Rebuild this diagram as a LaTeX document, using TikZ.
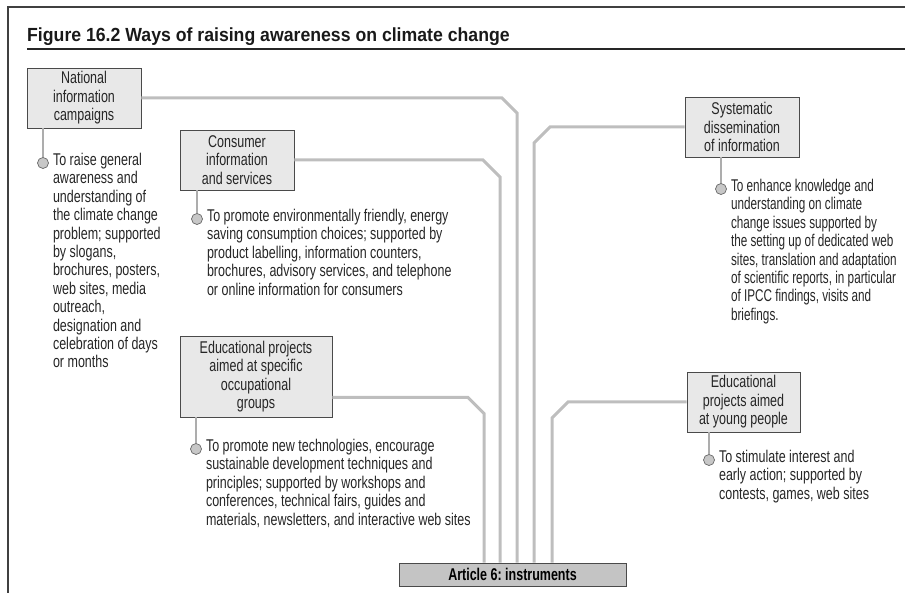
\documentclass[tikz,border=0pt]{standalone}
\usepackage{fontspec}
\setmainfont{Liberation Sans}[FakeStretch=0.735]
\newfontfamily\titlefamily{Liberation Sans}[FakeStretch=0.93]
\newfontfamily\tightfamily{Liberation Sans}[FakeStretch=0.69]
\usepackage{xcolor}
\usepackage{tikz}
\definecolor{feedgray}{HTML}{BEBEBE}
\definecolor{boxfill}{HTML}{E8E8E8}
\definecolor{boxline}{HTML}{4A4A4A}
\definecolor{artfill}{HTML}{C4C4C4}
\newcommand{\waytext}{\fontsize{17}{18.4}\selectfont}
\newcommand{\titletext}{\fontsize{19}{22}\selectfont\titlefamily\bfseries}
\frenchspacing
\tikzset{
    way/.style={draw=boxline, fill=boxfill, line width=0.9pt, align=center,%
    inner xsep=3pt, inner ysep=0pt, minimum width=114pt, minimum height=60pt,%
    font=\waytext, text=black!85},
    art/.style={draw=boxline, fill=artfill, line width=0.9pt, minimum width=227pt,%
    minimum height=23pt, inner sep=0pt, font=\waytext\bfseries},
    desc/.style={align=left, inner sep=0pt, anchor=north west, font=\waytext, text=black!85},
    dot/.style={circle, draw=black!60, fill=black!22, line width=0.7pt, inner sep=0pt, minimum size=11pt},
    stem/.style={draw=black!32, line width=1.5pt},
    feed/.style={draw=feedgray, line width=3pt},
    frame/.style={draw=black!75, line width=1.3pt},
}
\begin{document}
\begin{tikzpicture}[x=1pt, y=-1pt]
    \useasboundingbox (0,0) rectangle (905,593);
    % frame and title
    \draw[frame] (905,7) -- (8,7) -- (8,593);
    \node[anchor=base west, inner sep=0pt, font=\titletext, text=black!90] (title) at (27,42)
        {Figure 16.2 Ways of raising awareness on climate change};
    \draw[black!85, line width=1.2pt] (27,49) -- (905,49);

    % the five ways
    \node[way] (nat) at (84,98) {National\\information\\campaigns};
    \node[way] (con) at (237,160) {Consumer\\information\\and services};
    \node[way] (sys) at (742,127) {Systematic\\dissemination\\of information};
    \node[way, minimum width=152pt, minimum height=81pt] (edu) at (256,376.5)
        {Educational projects\\aimed at specific\\occupational\\groups};
    \node[way, minimum width=113pt] (yng) at (743.5,402) {Educational\\projects aimed\\at young people};
    \node[art] (art) at (512.5,574.5) {Article 6: instruments};

    % feeders into article 6
    \draw[feed] (nat.east) -- (nat.east -| 502,0) -- ++(15,15) -- (517,0 |- art.north);
    \draw[feed] (con.east) -- (con.east -| 483,0) -- ++(17,17) -- (500,0 |- art.north);
    \draw[feed] (sys.west) -- (sys.west -| 550,0) -- ++(-16,16) -- (534,0 |- art.north);
    \draw[feed] ([yshift=-21pt]edu.east) -- ([yshift=-21pt]edu.east -| 468,0) -- ++(16,16) -- (484,0 |- art.north);
    \draw[feed] (yng.west) -- (yng.west -| 568,0) -- ++(-16,16) -- (552,0 |- art.north);

    % bullets
    \node[dot] (natdot) at (43,163) {};
    \node[dot] (condot) at (197,219) {};
    \node[dot] (sysdot) at (721,189) {};
    \node[dot] (edudot) at (196,449) {};
    \node[dot] (yngdot) at (709,460) {};
    \draw[stem] (nat.south -| natdot) -- (natdot);
    \draw[stem] (con.south -| condot) -- (condot);
    \draw[stem] (sys.south -| sysdot) -- (sysdot);
    \draw[stem] (edu.south -| edudot) -- (edudot);
    \draw[stem] (yng.south -| yngdot) -- (yngdot);

    \node[desc] (nattext) at ([xshift=4pt, yshift=10pt]natdot.east)
        {To raise general\\awareness and\\understanding of\\the climate change\\problem; supported\\by slogans,\\brochures, posters,\\web sites, media\\outreach,\\designation and\\celebration of days\\or months};
    \node[desc] (context) at ([xshift=4pt, yshift=10pt]condot.east)
        {To promote environmentally friendly, energy\\saving consumption choices; supported by\\product labelling, information counters,\\brochures, advisory services, and telephone\\or online information for consumers};
    \node[desc, font=\waytext\tightfamily] (systext) at ([xshift=4pt, yshift=10pt]sysdot.east)
        {To enhance knowledge and\\understanding on climate\\change issues supported by\\the setting up of dedicated web\\sites, translation and adaptation\\of scientific reports, in particular\\of IPCC findings, visits and\\briefings.};
    \node[desc] (edutext) at ([xshift=4pt, yshift=10pt]edudot.east)
        {To promote new technologies, encourage\\sustainable development techniques and\\principles; supported by workshops and\\conferences, technical fairs, guides and\\materials, newsletters, and interactive web sites};
    \node[desc] (yngtext) at ([xshift=4pt, yshift=10pt]yngdot.east)
        {To stimulate interest and\\early action; supported by\\contests, games, web sites};
\end{tikzpicture}
\end{document}
